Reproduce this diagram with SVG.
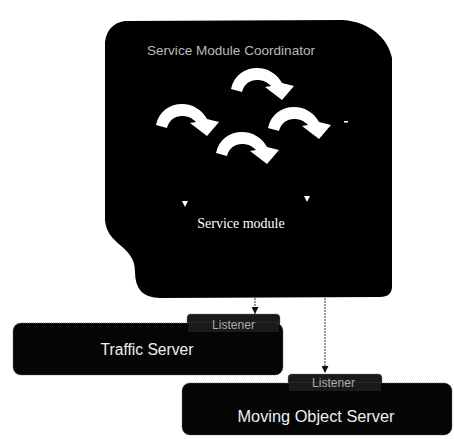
<svg xmlns="http://www.w3.org/2000/svg" xmlns:xlink="http://www.w3.org/1999/xlink" width="454" height="439" viewBox="0 0 454 439">
  <style>
    .panel { fill: #000; }
    .box { fill: #050505; stroke: #666; stroke-width: 0.8; stroke-dasharray: 1 1; }
    .tab { fill: #1a1a1a; stroke: #777; stroke-width: 0.8; stroke-dasharray: 1 1; }
    .flow { fill: #fff; }
    .link { fill: none; stroke: #555; stroke-width: 1.2; stroke-dasharray: 2 1; }
    .sans { font-family: "Liberation Sans", Arial, sans-serif; }
    .serif { font-family: "Liberation Serif", "Times New Roman", serif; }
    .title { font-size: 12px; fill: #bbb; }
    .label { font-size: 16px; fill: #eee; text-anchor: middle; }
    .listener { font-size: 12px; fill: #aaa; }
    .module { font-size: 14px; fill: #fff; text-anchor: middle; }
  </style>
  <defs>
    <!-- thick curved arrow bending down to the right -->
    <path id="curl" d="M0,21 C3,7 14,0 26,0 C37,0 46,6 51,15 L63,18 L51,32 L34,19 L40,18 C36,14 32,12 26,12 C19,12 13,16 11,24 Z"/>
    <marker id="head" viewBox="0 0 8 8" refX="8" refY="4" markerWidth="7" markerHeight="7" orient="auto" markerUnits="userSpaceOnUse">
      <path d="M0,0 L8,4 L0,8 Z" fill="#111"/>
    </marker>
  </defs>

  <!-- coordinator panel -->
  <g id="service-module-coordinator">
    <path class="panel" d="M127,21 L343,20 C370,22 388,38 392,58 L392,286 Q392,297 380,297 L160,298 Q135,298 135,272 C135,258 128,252 120,245 C112,238 106,232 105,220 L105,45 C105,30 115,21 127,21 Z"/>
    <text class="sans title" x="147" y="55" textLength="168" lengthAdjust="spacingAndGlyphs">Service Module Coordinator</text>
    <use xlink:href="#curl" class="flow" transform="translate(231,68)"/>
    <use xlink:href="#curl" class="flow" transform="translate(156,104)"/>
    <use xlink:href="#curl" class="flow" transform="translate(268,107)"/>
    <use xlink:href="#curl" class="flow" transform="translate(216,132)"/>
    <rect x="344" y="121" width="4" height="1.5" fill="#fff"/>
    <path d="M182,201 L188,201 L185,207 Z" fill="#fff"/>
    <path d="M304,196 L310,196 L307,202 Z" fill="#fff"/>
    <text class="serif module" x="241" y="228">Service module</text>
  </g>

  <!-- links from the coordinator to the server listeners -->
  <g id="connectors">
    <line class="link" x1="255" y1="298" x2="255" y2="314" marker-end="url(#head)"/>
    <line class="link" x1="325" y1="298" x2="325" y2="373" marker-end="url(#head)"/>
  </g>

  <g id="traffic-server">
    <path class="tab" d="M187,326 L187,318 Q187,314 191,314 L276,314 Q280,314 280,318 L280,326 Z"/>
    <rect class="box" x="13" y="323" width="270" height="52" rx="8"/>
    <path d="M188,324 L279,324 L279,332 L188,332 Z" fill="#1a1a1a"/>
    <text class="sans listener" x="212" y="329" textLength="43" lengthAdjust="spacingAndGlyphs">Listener</text>
    <text class="sans label" x="147" y="355" textLength="93" lengthAdjust="spacingAndGlyphs">Traffic Server</text>
  </g>

  <g id="moving-object-server">
    <path class="tab" d="M288,386 L288,378 Q288,374 292,374 L378,374 Q382,374 382,378 L382,386 Z"/>
    <rect class="box" x="182" y="383" width="270" height="52" rx="8"/>
    <path d="M289,383 L381,383 L381,391 L289,391 Z" fill="#1a1a1a"/>
    <text class="sans listener" x="312" y="387" textLength="43" lengthAdjust="spacingAndGlyphs">Listener</text>
    <text class="sans label" x="316" y="422" textLength="157" lengthAdjust="spacingAndGlyphs">Moving Object Server</text>
  </g>
</svg>
